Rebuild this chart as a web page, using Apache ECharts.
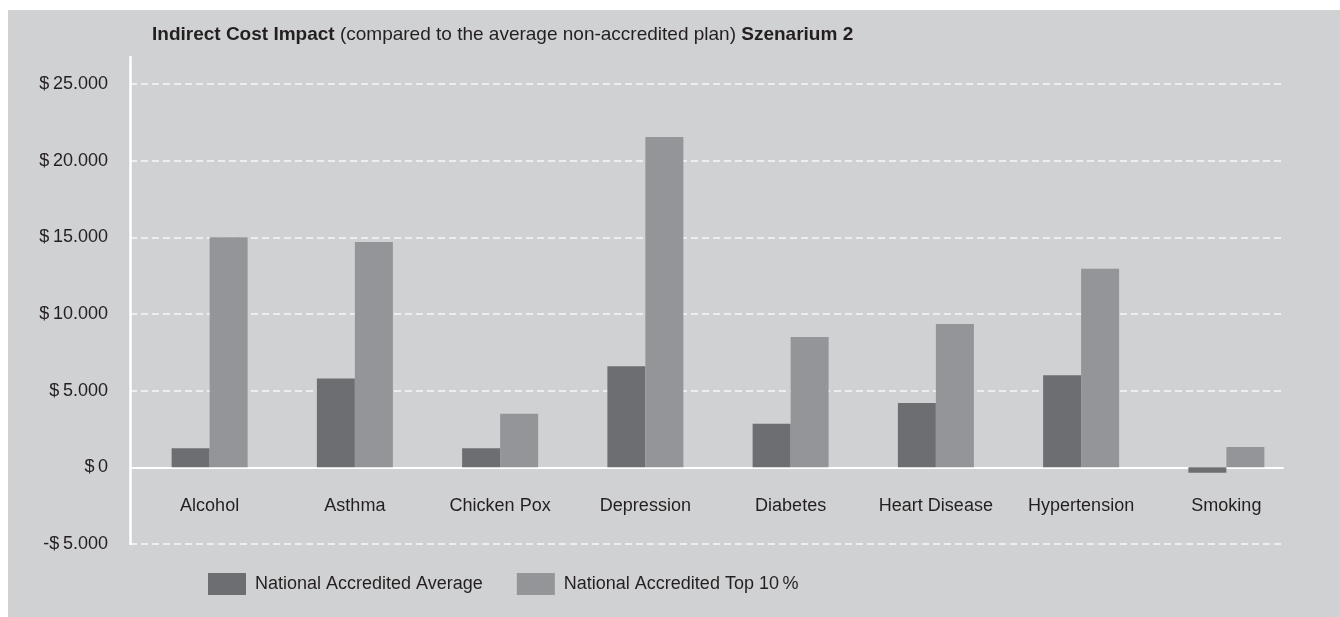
<!DOCTYPE html>
<html>
<head>
<meta charset="utf-8">
<script src="https://cdn.jsdelivr.net/npm/echarts@6/dist/echarts.min.js"></script>
<style>
  html, body { margin: 0; padding: 0; background: #ffffff; width: 1340px; height: 617px; overflow: hidden; }
  #chart { position: absolute; left: 8px; top: 10px; width: 1332px; height: 607px; background: #d0d1d3; }
</style>
</head>
<body>
<div id="chart"></div>
<script>
const categories = ['Alcohol', 'Asthma', 'Chicken Pox', 'Depression', 'Diabetes', 'Heart Disease', 'Hypertension', 'Smoking'];
const accreditedAverage = [1250, 5800, 1250, 6600, 2850, 4200, 6000, -350];
const accreditedTop10 = [15000, 14700, 3500, 21550, 8500, 9350, 12950, 1320];
const seriesNames = ['National Accredited Average', 'National Accredited Top 10\u2009%'];
const yMin = -5000, yMax = 25000, yStep = 5000;

const FONT = '"Liberation Sans", Arial, sans-serif';
const TXT = '#231f20';

function money(v) {
  const s = Math.abs(v).toString().replace(/\B(?=(\d{3})+(?!\d))/g, '.');
  return (v < 0 ? '-' : '') + '$\u2009' + s;
}

const chart = echarts.init(document.getElementById('chart'));
chart.setOption({
  backgroundColor: 'transparent',
  animation: false,
  textStyle: { fontFamily: FONT, color: TXT },
  title: {
    left: 139, top: 10,
    text: '{b|Indirect Cost Impact} (compared to the average non-accredited plan) {b|Szenarium 2}',
    textStyle: {
      fontFamily: FONT, fontSize: 19, fontWeight: 'normal', color: TXT,
      rich: { b: { fontFamily: FONT, fontSize: 19, fontWeight: 'bold', color: TXT } }
    }
  },
  legend: {
    left: 195, top: 558,
    icon: 'rect', itemWidth: 38, itemHeight: 22, itemGap: 34,
    textStyle: { fontFamily: FONT, fontSize: 18, color: TXT, padding: [0, 0, 0, 4] },
    data: seriesNames
  },
  grid: [
    { left: 122, right: 57, top: 74, bottom: 73 },
    { left: 129, right: 41, top: 74, bottom: 73 },
    { left: 122, right: 57, top: 47, bottom: 73 }
  ],
  xAxis: [
    { gridIndex: 0, type: 'category', data: categories,
      axisLine: { show: true, onZero: true, lineStyle: { color: '#ffffff', width: 2 } },
      axisTick: { show: false }, axisLabel: { show: false }, splitLine: { show: false } },
    { gridIndex: 1, type: 'category', data: categories, position: 'bottom', offset: -77,
      axisLine: { show: false, onZero: false }, axisTick: { show: false },
      axisLabel: { show: true, interval: 0, margin: 30, fontFamily: FONT, fontSize: 18, color: TXT } },
    { gridIndex: 2, type: 'category', data: categories, show: false }
  ],
  yAxis: [
    { gridIndex: 0, type: 'value', min: yMin, max: yMax, interval: yStep,
      axisLine: { show: false }, axisTick: { show: false },
      axisLabel: { margin: 22, fontFamily: FONT, fontSize: 18, color: TXT, formatter: money },
      splitLine: { show: true, lineStyle: { color: '#f7f7f7', width: 1.5, type: [7, 4] } } },
    { gridIndex: 1, type: 'value', min: yMin, max: yMax, interval: yStep,
      axisLine: { show: false }, axisTick: { show: false }, axisLabel: { show: false },
      splitLine: { show: false } },
    { gridIndex: 2, type: 'value', min: yMin, max: yMax, interval: yStep,
      axisLine: { show: true, lineStyle: { color: '#ffffff', width: 2.5 } },
      axisTick: { show: false }, axisLabel: { show: false }, splitLine: { show: false } }
  ],
  series: [
    { name: seriesNames[0], type: 'bar', xAxisIndex: 1, yAxisIndex: 1,
      data: accreditedAverage, barWidth: 38, barGap: '0%',
      itemStyle: { color: '#6d6e71' } },
    { name: seriesNames[1], type: 'bar', xAxisIndex: 1, yAxisIndex: 1,
      data: accreditedTop10, barWidth: 38, barGap: '0%',
      itemStyle: { color: '#939598' } }
  ]
});
</script>
</body>
</html>
